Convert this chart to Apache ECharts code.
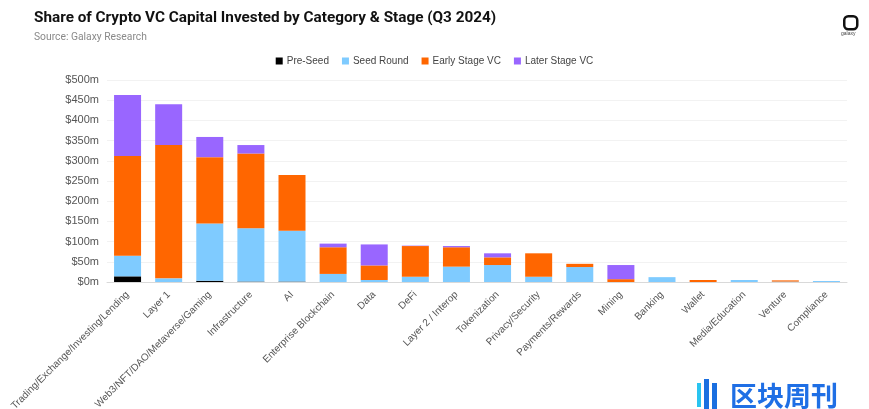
<!DOCTYPE html>
<html><head><meta charset="utf-8">
<script src="https://cdn.jsdelivr.net/npm/echarts@6/dist/echarts.min.js"></script>
<style>html,body{margin:0;padding:0;background:#fff}#c{width:869px;height:409px}</style>
</head><body><div id="c"></div>
<script>
const categories = ["Trading/Exchange/Investing/Lending","Layer 1","Web3/NFT/DAO/Metaverse/Gaming","Infrastructure","AI","Enterprise Blockchain","Data","DeFi","Layer 2 / Interop","Tokenization","Privacy/Security","Payments/Rewards","Mining","Banking","Wallet","Media/Education","Venture","Compliance"];
const preSeed   = [14, 0, 3, 1, 1, 0, 0, 0, 0, 0, 0, 0, 0, 0, 0, 0, 0, 0];
const seedRound = [51, 9, 142, 132, 126, 20, 5, 13, 38, 42, 13, 37, 0, 12, 0, 5, 1, 2.5];
const earlyVC   = [247, 330, 164, 185, 138, 66, 36, 76, 48, 19, 58, 8, 7, 0, 5, 0, 3, 0];
const laterVC   = [151, 101, 50, 21, 0, 9, 52, 1, 3, 10, 0, 0, 35, 0, 0, 0, 0, 0];
const yTicks = [0, 50, 100, 150, 200, 250, 300, 350, 400, 450, 500];

const chart = echarts.init(document.getElementById('c'));
const mk = (name, data, color) => ({name, type:'bar', stack:'s', data, barWidth:27, itemStyle:{color}});
chart.setOption({
  animation:false,
  textStyle:{fontFamily:'Roboto, Arial, sans-serif'},
  title:[{text:'Share of Crypto VC Capital Invested by Category & Stage (Q3 2024)', left:29, top:6,
    textStyle:{fontSize:15.3, fontWeight:'bold', color:'#111', fontFamily:'Roboto, sans-serif'}},
    {text:'Source: Galaxy Research', left:29, top:27, textStyle:{fontSize:10.3, fontWeight:'normal', color:'#8a8a8a', fontFamily:'Roboto, sans-serif'}}],
  legend:{top:51, left:'center', itemWidth:7, itemHeight:7, itemGap:13, icon:'rect',
    textStyle:{fontSize:10, color:'#444', fontFamily:'Arial, Liberation Sans, sans-serif', padding:[0,0,0,-1]},
    data:['Pre-Seed','Seed Round','Early Stage VC','Later Stage VC']},
  grid:{left:107, right:22, top:80, bottom:127, outerBoundsMode:'none', containLabel:false},
  xAxis:{type:'category', data:categories,
    axisLine:{lineStyle:{color:'#d9d9d9'}}, axisTick:{show:false},
    axisLabel:{rotate:45, interval:0, fontSize:10, color:'#555', margin:11, fontFamily:'Arial, Liberation Sans, sans-serif'}},
  yAxis:{type:'value', min:yTicks[0], max:yTicks[yTicks.length-1], interval:50,
    axisLine:{show:false}, axisTick:{show:false},
    splitLine:{lineStyle:{color:'#f2f2f2'}},
    axisLabel:{formatter:v=>'$'+v+'m', fontSize:11, color:'#555', margin:8, fontFamily:'Arial, Liberation Sans, sans-serif'}},
  series:[mk('Pre-Seed',preSeed,'#000000'), mk('Seed Round',seedRound,'#7fcbff'), mk('Early Stage VC',earlyVC,'#ff6600'), mk('Later Stage VC',laterVC,'#9966ff')],
  graphic:[
    {type:'rect', left:843, top:15, shape:{width:13, height:13, r:4}, style:{fill:'#fff', stroke:'#111', lineWidth:2.5}},
    {type:'text', left:841, top:31, style:{text:'galaxy', fontSize:5, fill:'#444'}},
    {type:'rect', left:697, top:383, shape:{width:4, height:24}, style:{fill:'#29c4f0'}},
    {type:'rect', left:704, top:379, shape:{width:5, height:30}, style:{fill:'#1a6fe0'}},
    {type:'rect', left:712, top:383, shape:{width:5, height:26}, style:{fill:'#1a6fe0'}},
    {type:'text', left:730, top:382, style:{text:'区块周刊', fontSize:27, fontWeight:'bold', fill:'#1f6fe5', fontFamily:'Noto Sans CJK SC'}}
  ]
});
</script></body></html>
